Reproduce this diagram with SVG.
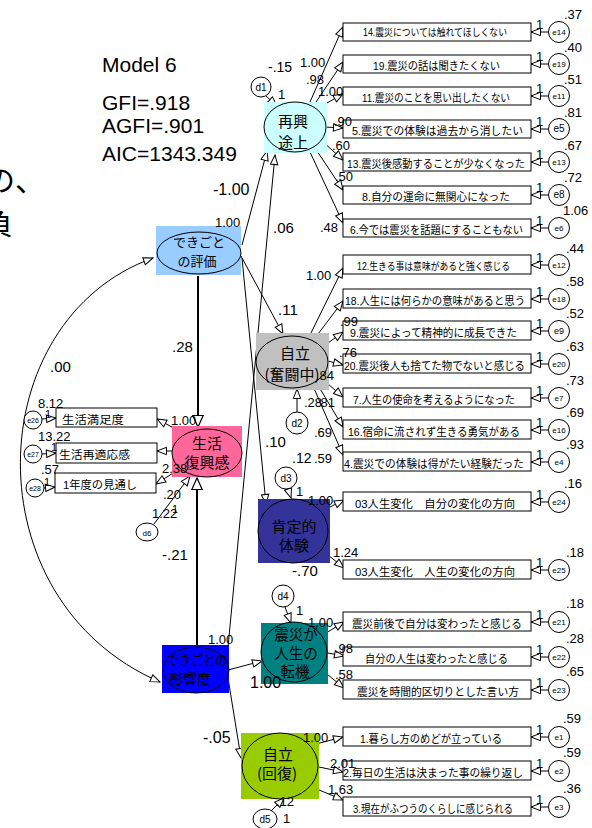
<svg xmlns="http://www.w3.org/2000/svg" width="592" height="828" viewBox="0 0 592 828">
<defs>
<marker id="ah" markerWidth="11" markerHeight="9" refX="10" refY="4.5" orient="auto" markerUnits="userSpaceOnUse" overflow="visible"><path d="M0.5,0.8 L10,4.5 L0.5,8.2 Z" fill="#fff" stroke="#000" stroke-width="1"/></marker>
<marker id="ahb" markerWidth="13" markerHeight="12" refX="12" refY="6" orient="auto" markerUnits="userSpaceOnUse" overflow="visible"><path d="M0.5,0.8 L12,6 L0.5,11.2 Z" fill="#fff" stroke="#000" stroke-width="1.2"/></marker>
<marker id="ahs" markerWidth="11" markerHeight="9" refX="10" refY="4.5" orient="auto-start-reverse" markerUnits="userSpaceOnUse" overflow="visible"><path d="M0.5,0.8 L10,4.5 L0.5,8.2 Z" fill="#fff" stroke="#000" stroke-width="1"/></marker>
<style>
.ln{stroke:#000;stroke-width:1;fill:none}
.ar{stroke:#000;stroke-width:1;fill:none;marker-end:url(#ah)}
.arb{stroke:#000;stroke-width:2;fill:none;marker-end:url(#ahb)}
.box{fill:#fff;stroke:#000;stroke-width:1}
.err{fill:#fff;stroke:#000;stroke-width:1}
.el{stroke:#000;stroke-width:1}
.n{font-family:"Liberation Sans",Arial,sans-serif;font-size:13px;fill:#000}
.nl{font-family:"Liberation Sans",Arial,sans-serif;font-size:15px;fill:#000}
.big{font-family:"Liberation Sans",Arial,sans-serif;font-size:21px;fill:#000}
.en{font-family:"Liberation Sans",Arial,sans-serif;font-size:8px;fill:#000;text-anchor:middle}
.dn{font-family:"Liberation Sans",Arial,sans-serif;font-size:10px;fill:#000;text-anchor:middle}
.bt{font-family:"Liberation Sans","Noto Sans CJK JP",sans-serif;font-size:11px;fill:#000}
.sm{font-size:10px}
.lt{font-family:"Noto Sans CJK JP",sans-serif;font-size:15px;fill:#000;text-anchor:middle}
.frag{font-family:"Noto Sans CJK JP",sans-serif;font-size:30px;fill:#000}
</style>
</defs>
<rect width="592" height="828" fill="#fff"/>

<g id="title">
<text class="frag" x="-15" y="191">の、</text>
<text class="frag" x="-17" y="234">負</text>
<text class="big" x="102" y="72">Model 6</text>
<text class="big" x="102" y="110">GFI=.918</text>
<text class="big" x="102" y="133">AGFI=.901</text>
<text class="big" x="102" y="161">AIC=1343.349</text>
</g>

<g id="connectors">
<path d="M153,258 C-20,320 -30,600 160,682" class="ln" marker-start="url(#ahs)" marker-end="url(#ahs)"/>
<line class="ar" x1="242" y1="245" x2="267" y2="151"/>
<line class="ar" x1="228" y1="647" x2="275" y2="155"/>
<line class="ar" x1="241" y1="256" x2="283" y2="334"/>
<line class="ar" x1="242" y1="258" x2="266" y2="504"/>
<line class="arb" x1="198" y1="276" x2="198" y2="427"/>
<line class="arb" x1="197" y1="645" x2="197" y2="478"/>
<line class="ar" x1="228" y1="670" x2="262" y2="661"/>
<line class="ar" x1="227" y1="672" x2="241" y2="758"/>
<line class="ar" x1="266" y1="96" x2="277" y2="106"/>
<line class="ar" x1="297" y1="412" x2="297" y2="389"/>
<line class="ar" x1="288" y1="489" x2="291" y2="498"/>
<line class="ar" x1="285" y1="607" x2="291" y2="623"/>
<line class="ar" x1="271" y1="811" x2="284" y2="798"/>
<line class="ar" x1="154" y1="524" x2="190" y2="476"/>
<line class="ar" x1="183" y1="433" x2="157" y2="419"/>
<line class="ar" x1="172" y1="451" x2="157" y2="451"/>
<line class="ar" x1="181" y1="468" x2="156" y2="484"/>
<line class="ar" x1="42" y1="419" x2="56" y2="418"/>
<line class="ar" x1="42" y1="454" x2="56" y2="453"/>
<line class="ar" x1="44" y1="488" x2="55" y2="487"/>
<line class="ar" x1="310" y1="102" x2="343" y2="27"/>
<line class="ar" x1="314" y1="105" x2="343" y2="62"/>
<line class="ar" x1="318" y1="108" x2="343" y2="94"/>
<line class="ar" x1="325" y1="127" x2="343" y2="128"/>
<line class="ar" x1="321" y1="140" x2="343" y2="160"/>
<line class="ar" x1="315" y1="148" x2="343" y2="190"/>
<line class="ar" x1="310" y1="152" x2="343" y2="223"/>
<line class="ar" x1="310" y1="335" x2="343" y2="268"/>
<line class="ar" x1="315" y1="338" x2="343" y2="301"/>
<line class="ar" x1="324" y1="346" x2="343" y2="332"/>
<line class="ar" x1="328" y1="361" x2="343" y2="365"/>
<line class="ar" x1="320" y1="377" x2="343" y2="397"/>
<line class="ar" x1="316" y1="382" x2="343" y2="427"/>
<line class="ar" x1="313" y1="386" x2="343" y2="455"/>
<line class="ar" x1="322" y1="511" x2="344" y2="500"/>
<line class="ar" x1="322" y1="550" x2="344" y2="568"/>
<line class="ar" x1="326" y1="633" x2="344" y2="622"/>
<line class="ar" x1="328" y1="653" x2="344" y2="656"/>
<line class="ar" x1="322" y1="670" x2="344" y2="688"/>
<line class="ar" x1="312" y1="745" x2="343" y2="737"/>
<line class="ar" x1="319" y1="767" x2="343" y2="772"/>
<line class="ar" x1="312" y1="787" x2="343" y2="800"/>
<line class="ar" x1="548" y1="32" x2="531" y2="32"/>
<line class="ar" x1="548" y1="64" x2="531" y2="64"/>
<line class="ar" x1="548" y1="96" x2="531" y2="96"/>
<line class="ar" x1="548" y1="129" x2="531" y2="129"/>
<line class="ar" x1="548" y1="162" x2="531" y2="162"/>
<line class="ar" x1="548" y1="195" x2="531" y2="195"/>
<line class="ar" x1="548" y1="228" x2="531" y2="228"/>
<line class="ar" x1="548" y1="265" x2="531" y2="265"/>
<line class="ar" x1="548" y1="299" x2="531" y2="299"/>
<line class="ar" x1="548" y1="331" x2="531" y2="331"/>
<line class="ar" x1="548" y1="364" x2="531" y2="364"/>
<line class="ar" x1="548" y1="398" x2="531" y2="398"/>
<line class="ar" x1="548" y1="430" x2="531" y2="430"/>
<line class="ar" x1="548" y1="462" x2="531" y2="462"/>
<line class="ar" x1="548" y1="502" x2="531" y2="502"/>
<line class="ar" x1="548" y1="570" x2="531" y2="570"/>
<line class="ar" x1="548" y1="622" x2="531" y2="622"/>
<line class="ar" x1="548" y1="657" x2="531" y2="657"/>
<line class="ar" x1="548" y1="690" x2="531" y2="690"/>
<line class="ar" x1="548" y1="737" x2="531" y2="737"/>
<line class="ar" x1="548" y1="771" x2="531" y2="771"/>
<line class="ar" x1="548" y1="807" x2="531" y2="807"/>
</g>

<g id="node-hyoka">
<rect x="156" y="226" width="85" height="49" fill="#99CCFF"/>
<ellipse class="el" cx="199" cy="253" rx="42" ry="21" fill="#99CCFF"/>
<text class="lt" x="199" y="247" style="font-size:13px">できごと</text>
<text class="lt" x="197" y="266" style="font-size:13px">の評価</text>
</g>
<g id="node-seikatsu">
<rect x="172" y="426" width="70" height="51" fill="#FF6699"/>
<ellipse class="el" cx="207" cy="453" rx="35" ry="24" fill="#FF6699"/>
<text class="lt" x="207" y="449">生活</text>
<text class="lt" x="207" y="468">復興感</text>
</g>
<g id="node-eikyo">
<rect x="162" y="645" width="67" height="48" fill="#0000FF"/>
<ellipse class="el" cx="196" cy="670" rx="33" ry="23" fill="#0000FF"/>
<text class="lt" x="197" y="665" style="font-size:13.5px" textLength="61" lengthAdjust="spacingAndGlyphs">できごとの</text>
<text class="lt" x="190" y="684" style="font-size:14px">影響度</text>
</g>
<g id="node-saiko">
<rect x="264" y="102" width="63" height="51" fill="#CCFFFF"/>
<ellipse class="el" cx="295" cy="127" rx="31" ry="25" fill="#CCFFFF"/>
<text class="lt" x="293" y="127">再興</text>
<text class="lt" x="293" y="148">途上</text>
</g>
<g id="node-funto">
<rect x="256" y="333" width="73" height="57" fill="#C0C0C0"/>
<ellipse class="el" cx="292" cy="362" rx="36" ry="26" fill="#C0C0C0"/>
<text class="lt" x="295" y="359">自立</text>
<text class="lt" x="292" y="380">(奮闘中)</text>
</g>
<g id="node-kotei">
<rect x="258" y="499" width="72" height="64" fill="#333399"/>
<ellipse class="el" cx="293" cy="531" rx="35" ry="32" fill="#333399"/>
<text class="lt" x="294" y="532">肯定的</text>
<text class="lt" x="294" y="551">体験</text>
</g>
<g id="node-tenki">
<rect x="261" y="623" width="67" height="61" fill="#008080"/>
<ellipse class="el" cx="294" cy="652" rx="33" ry="30" fill="#008080"/>
<text class="lt" x="296" y="640" style="font-size:14.5px">震災が</text>
<text class="lt" x="296" y="659" style="font-size:14.5px">人生の</text>
<text class="lt" x="295" y="677" style="font-size:14.5px">転機</text>
</g>
<g id="node-kaifuku">
<rect x="241" y="733" width="78" height="66" fill="#99CC00"/>
<ellipse class="el" cx="280" cy="766" rx="38" ry="33" fill="#99CC00"/>
<text class="lt" x="278" y="760">自立</text>
<text class="lt" x="277" y="779">(回復)</text>
</g>

<g id="d1"><circle class="err" cx="261" cy="87" r="10"/><text class="dn" x="261" y="91">d1</text></g>
<g id="d2"><circle class="err" cx="297" cy="423" r="11"/><text class="dn" x="297" y="427">d2</text></g>
<g id="d3"><circle class="err" cx="286" cy="478" r="11"/><text class="dn" x="286" y="482">d3</text></g>
<g id="d4"><circle class="err" cx="283" cy="596" r="11"/><text class="dn" x="283" y="600">d4</text></g>
<g id="d5"><ellipse class="err" cx="265" cy="819" rx="12" ry="10"/><text class="dn" x="265" y="823">d5</text></g>
<g id="d6"><ellipse class="err" cx="147" cy="532" rx="11" ry="9"/><text class="dn" x="147" y="536" style="font-size:8px">d6</text></g>

<g id="ind-manzoku"><rect class="box" x="56" y="408" width="101" height="19"/><text class="bt" x="62" y="424" textLength="62" lengthAdjust="spacingAndGlyphs">生活満足度</text></g>
<g id="ind-tekio"><rect class="box" x="56" y="443" width="101" height="20"/><text class="bt" x="59" y="459" textLength="71" lengthAdjust="spacingAndGlyphs">生活再適応感</text></g>
<g id="ind-mitoshi"><rect class="box" x="55" y="473" width="101" height="20"/><text class="bt" x="63" y="489" textLength="74" lengthAdjust="spacingAndGlyphs">1年度の見通し</text></g>
<g id="e26"><circle class="err" cx="33" cy="420" r="9"/><text class="en" x="33" y="423" style="font-size:7px">e26</text></g>
<g id="e27"><circle class="err" cx="33" cy="454" r="9"/><text class="en" x="33" y="457" style="font-size:7px">e27</text></g>
<g id="e28"><circle class="err" cx="35" cy="488" r="9"/><text class="en" x="35" y="491" style="font-size:7px">e28</text></g>

<g id="ind-14"><rect class="box" x="343" y="23" width="188" height="18"/><text class="bt sm" x="363" y="36" textLength="144" lengthAdjust="spacingAndGlyphs">14.震災については触れてほしくない</text></g>
<g id="ind-19"><rect class="box" x="343" y="55" width="188" height="18"/><text class="bt" x="373" y="70" textLength="127" lengthAdjust="spacingAndGlyphs">19.震災の話は聞きたくない</text></g>
<g id="ind-11"><rect class="box" x="343" y="87" width="188" height="18"/><text class="bt" x="362" y="102" textLength="148" lengthAdjust="spacingAndGlyphs">11.震災のことを思い出したくない</text></g>
<g id="ind-5"><rect class="box" x="343" y="120" width="188" height="18"/><text class="bt" x="352" y="135" textLength="171" lengthAdjust="spacingAndGlyphs">5.震災での体験は過去から消したい</text></g>
<g id="ind-13"><rect class="box" x="343" y="153" width="188" height="18"/><text class="bt" x="347" y="168" textLength="178" lengthAdjust="spacingAndGlyphs">13.震災後感動することが少なくなった</text></g>
<g id="ind-8"><rect class="box" x="343" y="186" width="188" height="18"/><text class="bt" x="362" y="201" textLength="148" lengthAdjust="spacingAndGlyphs">8.自分の運命に無関心になった</text></g>
<g id="ind-6"><rect class="box" x="343" y="219" width="188" height="18"/><text class="bt" x="350" y="234" textLength="173" lengthAdjust="spacingAndGlyphs">6.今では震災を話題にすることもない</text></g>
<g id="ind-12"><rect class="box" x="343" y="255" width="188" height="19"/><text class="bt sm" x="357" y="270" textLength="153" lengthAdjust="spacingAndGlyphs">12.生きる事は意味があると強く感じる</text></g>
<g id="ind-18"><rect class="box" x="343" y="289" width="188" height="19"/><text class="bt" x="345" y="305" textLength="180" lengthAdjust="spacingAndGlyphs">18.人生には何らかの意味があると思う</text></g>
<g id="ind-9"><rect class="box" x="343" y="321" width="188" height="19"/><text class="bt" x="350" y="337" textLength="167" lengthAdjust="spacingAndGlyphs">9.震災によって精神的に成長できた</text></g>
<g id="ind-20"><rect class="box" x="343" y="354" width="188" height="19"/><text class="bt" x="344" y="370" textLength="181" lengthAdjust="spacingAndGlyphs">20.震災後人も捨てた物でないと感じる</text></g>
<g id="ind-7"><rect class="box" x="343" y="388" width="188" height="19"/><text class="bt" x="353" y="404" textLength="162" lengthAdjust="spacingAndGlyphs">7.人生の使命を考えるようになった</text></g>
<g id="ind-16"><rect class="box" x="343" y="420" width="188" height="19"/><text class="bt" x="348" y="436" textLength="172" lengthAdjust="spacingAndGlyphs">16.宿命に流されず生きる勇気がある</text></g>
<g id="ind-4"><rect class="box" x="343" y="452" width="188" height="19"/><text class="bt" x="344" y="468" textLength="180" lengthAdjust="spacingAndGlyphs">4.震災での体験は得がたい経験だった</text></g>
<g id="ind-03a"><rect class="box" x="343" y="492" width="188" height="19"/><text class="bt" x="355" y="508" textLength="160" lengthAdjust="spacingAndGlyphs">03人生変化　自分の変化の方向</text></g>
<g id="ind-03b"><rect class="box" x="343" y="560" width="188" height="19"/><text class="bt" x="355" y="576" textLength="160" lengthAdjust="spacingAndGlyphs">03人生変化　人生の変化の方向</text></g>
<g id="ind-21"><rect class="box" x="343" y="612" width="188" height="19"/><text class="bt" x="352" y="628" textLength="170" lengthAdjust="spacingAndGlyphs">震災前後で自分は変わったと感じる</text></g>
<g id="ind-22"><rect class="box" x="343" y="647" width="188" height="19"/><text class="bt" x="365" y="663" textLength="143" lengthAdjust="spacingAndGlyphs">自分の人生は変わったと感じる</text></g>
<g id="ind-23"><rect class="box" x="343" y="680" width="188" height="19"/><text class="bt" x="357" y="696" textLength="162" lengthAdjust="spacingAndGlyphs">震災を時間的区切りとした言い方</text></g>
<g id="ind-1"><rect class="box" x="343" y="727" width="188" height="19"/><text class="bt" x="360" y="743" textLength="142" lengthAdjust="spacingAndGlyphs">1.暮らし方のめどが立っている</text></g>
<g id="ind-2"><rect class="box" x="343" y="761" width="188" height="19"/><text class="bt" x="343" y="777" textLength="180" lengthAdjust="spacingAndGlyphs">2.毎日の生活は決まった事の繰り返し</text></g>
<g id="ind-3"><rect class="box" x="343" y="797" width="188" height="19"/><text class="bt" x="353" y="813" textLength="160" lengthAdjust="spacingAndGlyphs">3.現在がふつうのくらしに感じられる</text></g>

<g id="e14"><circle class="err" cx="559" cy="32" r="10.5"/><text class="en" x="559" y="35">e14</text></g>
<g id="e19"><circle class="err" cx="559" cy="64" r="10.5"/><text class="en" x="559" y="67">e19</text></g>
<g id="e11"><circle class="err" cx="559" cy="96" r="10.5"/><text class="en" x="559" y="99">e11</text></g>
<g id="e5"><circle class="err" cx="559" cy="129" r="10.5"/><text class="en" x="559" y="132" style="font-size:10px">e5</text></g>
<g id="e13"><circle class="err" cx="559" cy="162" r="10.5"/><text class="en" x="559" y="165">e13</text></g>
<g id="e8"><circle class="err" cx="559" cy="195" r="10.5"/><text class="en" x="559" y="198" style="font-size:10px">e8</text></g>
<g id="e6"><circle class="err" cx="559" cy="228" r="10.5"/><text class="en" x="559" y="231">e6</text></g>
<g id="e12"><circle class="err" cx="559" cy="265" r="10.5"/><text class="en" x="559" y="268">e12</text></g>
<g id="e18"><circle class="err" cx="559" cy="299" r="10.5"/><text class="en" x="559" y="302">e18</text></g>
<g id="e9"><circle class="err" cx="559" cy="331" r="10.5"/><text class="en" x="559" y="334" style="font-size:9px">e9</text></g>
<g id="e20"><circle class="err" cx="559" cy="364" r="10.5"/><text class="en" x="559" y="367">e20</text></g>
<g id="e7"><circle class="err" cx="559" cy="398" r="10.5"/><text class="en" x="559" y="401">e7</text></g>
<g id="e16"><circle class="err" cx="559" cy="430" r="10.5"/><text class="en" x="559" y="433">e16</text></g>
<g id="e4"><circle class="err" cx="559" cy="462" r="10.5"/><text class="en" x="559" y="465">e4</text></g>
<g id="e24"><circle class="err" cx="559" cy="502" r="10.5"/><text class="en" x="559" y="505">e24</text></g>
<g id="e25"><circle class="err" cx="559" cy="570" r="10.5"/><text class="en" x="559" y="573">e25</text></g>
<g id="e21"><circle class="err" cx="559" cy="622" r="10.5"/><text class="en" x="559" y="625">e21</text></g>
<g id="e22"><circle class="err" cx="559" cy="657" r="10.5"/><text class="en" x="559" y="660">e22</text></g>
<g id="e23"><circle class="err" cx="559" cy="690" r="10.5"/><text class="en" x="559" y="693">e23</text></g>
<g id="e1"><circle class="err" cx="559" cy="737" r="10.5"/><text class="en" x="559" y="740">e1</text></g>
<g id="e2"><circle class="err" cx="559" cy="771" r="10.5"/><text class="en" x="559" y="774">e2</text></g>
<g id="e3"><circle class="err" cx="559" cy="807" r="10.5"/><text class="en" x="559" y="810">e3</text></g>

<g id="labels">
<text class="nl" x="213" y="195" style="font-size:16px">-1.00</text>
<text class="n" x="215" y="227">1.00</text>
<text class="nl" x="273" y="233">.06</text>
<text class="nl" x="278" y="315">.11</text>
<text class="nl" x="172" y="352">.28</text>
<text class="nl" x="50" y="372">.00</text>
<text class="nl" x="265" y="447">.10</text>
<text class="nl" x="162" y="560">-.21</text>
<text class="n" x="208" y="644">1.00</text>
<text class="nl" x="250" y="688" style="font-size:16px">1.00</text>
<text class="nl" x="203" y="743" style="font-size:16px">-.05</text>
<text class="n" x="268" y="72" style="font-size:14px">-.15</text>
<text class="n" x="278" y="99">1</text>
<text class="n" x="304" y="407">.28</text>
<text class="n" x="292" y="463" style="font-size:14px">.12</text>
<text class="n" x="296" y="496">1</text>
<text class="nl" x="292" y="576">-.70</text>
<text class="n" x="296" y="615">1</text>
<text class="n" x="276" y="806">.12</text>
<text class="n" x="283" y="823">1</text>
<text class="n" x="163" y="499">.20</text>
<text class="n" x="152" y="518">1.22</text>
<text class="n" x="172" y="513" style="font-size:11px">1</text>
<text class="n" x="171" y="425">1.00</text>
<text class="n" x="162" y="473">2.38</text>
<text class="n" x="38" y="408">8.12</text>
<text class="n" x="45" y="418" style="font-size:11px">1</text>
<text class="n" x="38" y="441">13.22</text>
<text class="n" x="51" y="451" style="font-size:11px">1</text>
<text class="n" x="41" y="474">.57</text>
<text class="n" x="44" y="486" style="font-size:11px">1</text>
<text class="n" x="300" y="67">1.00</text>
<text class="n" x="306" y="84">.98</text>
<text class="n" x="318" y="96">1.00</text>
<text class="n" x="334" y="126">.90</text>
<text class="n" x="332" y="150">.60</text>
<text class="n" x="335" y="181">.50</text>
<text class="n" x="320" y="232">.48</text>
<text class="n" x="306" y="280">1.00</text>
<text class="n" x="340" y="326">.99</text>
<text class="n" x="339" y="357">.76</text>
<text class="n" x="316" y="380">.84</text>
<text class="n" x="317" y="407">.81</text>
<text class="n" x="314" y="437">.69</text>
<text class="n" x="314" y="463">.59</text>
<text class="n" x="308" y="505">1.00</text>
<text class="n" x="333" y="557">1.24</text>
<text class="n" x="308" y="627">1.00</text>
<text class="n" x="335" y="653">.98</text>
<text class="n" x="335" y="679">.58</text>
<text class="n" x="303" y="742">1.00</text>
<text class="n" x="330" y="768">2.01</text>
<text class="n" x="328" y="794">1.63</text>
<text class="n" x="536" y="29">1</text>
<text class="n" x="536" y="61">1</text>
<text class="n" x="536" y="93">1</text>
<text class="n" x="536" y="126">1</text>
<text class="n" x="536" y="159">1</text>
<text class="n" x="536" y="192">1</text>
<text class="n" x="536" y="225">1</text>
<text class="n" x="536" y="262">1</text>
<text class="n" x="536" y="296">1</text>
<text class="n" x="536" y="328">1</text>
<text class="n" x="536" y="361">1</text>
<text class="n" x="536" y="395">1</text>
<text class="n" x="536" y="427">1</text>
<text class="n" x="536" y="459">1</text>
<text class="n" x="536" y="499">1</text>
<text class="n" x="536" y="567">1</text>
<text class="n" x="536" y="619">1</text>
<text class="n" x="536" y="654">1</text>
<text class="n" x="536" y="687">1</text>
<text class="n" x="536" y="734">1</text>
<text class="n" x="536" y="768">1</text>
<text class="n" x="536" y="804">1</text>
<text class="n" x="564" y="19">.37</text>
<text class="n" x="564" y="52">.40</text>
<text class="n" x="564" y="84">.51</text>
<text class="n" x="564" y="117">.81</text>
<text class="n" x="564" y="150">.67</text>
<text class="n" x="564" y="182">.72</text>
<text class="n" x="563" y="215">1.06</text>
<text class="n" x="566" y="253">.44</text>
<text class="n" x="566" y="286">.58</text>
<text class="n" x="566" y="318">.52</text>
<text class="n" x="566" y="351">.63</text>
<text class="n" x="566" y="385">.73</text>
<text class="n" x="566" y="417">.69</text>
<text class="n" x="566" y="449">.93</text>
<text class="n" x="564" y="488">.16</text>
<text class="n" x="566" y="557">.18</text>
<text class="n" x="566" y="608">.18</text>
<text class="n" x="566" y="643">.28</text>
<text class="n" x="566" y="676">.65</text>
<text class="n" x="563" y="723">.59</text>
<text class="n" x="563" y="757">.59</text>
<text class="n" x="563" y="793">.36</text>
</g>
</svg>
